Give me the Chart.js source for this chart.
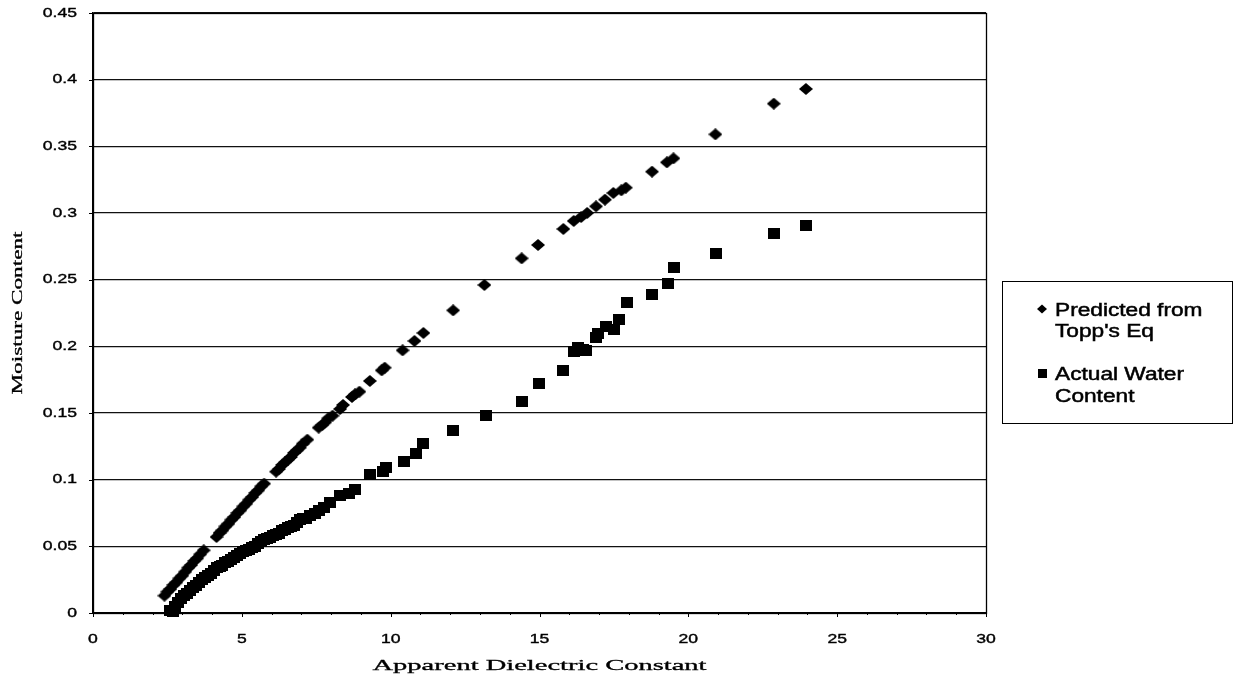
<!DOCTYPE html>
<html>
<head>
<meta charset="utf-8">
<script src="https://cdn.jsdelivr.net/npm/chart.js@4.4.1/dist/chart.umd.min.js"></script>
<style>
  html, body { margin: 0; padding: 0; background: #fff; }
  canvas { display: block; }
</style>
</head>
<body>
<canvas id="chart" width="1243" height="683"></canvas>
<script>
// Apparent dielectric constant (Ka) and moisture content readings
const toppKa = [2.4, 2.5, 2.6, 2.7, 2.8, 2.9, 3.0, 3.1, 3.2, 3.3, 3.4, 3.5, 3.6, 3.72,
  4.15, 4.25, 4.35, 4.45, 4.55, 4.65, 4.75, 4.85, 4.95, 5.05, 5.15, 5.25, 5.35, 5.45,
  5.55, 5.65, 5.75, 6.15, 6.25, 6.35, 6.45, 6.55, 6.65, 6.75, 6.85, 6.95,
  7.05, 7.2, 7.58, 7.7, 7.8, 7.9, 8.05, 8.3, 8.4, 8.7, 8.8, 8.95, 9.3, 9.7, 9.8,
  10.4, 10.8, 11.1, 12.1, 13.15, 14.4, 14.95, 15.8, 16.15, 16.4, 16.6, 16.9, 17.2, 17.48,
  17.75, 17.9, 18.78, 19.28, 19.5, 20.91, 22.87, 23.95];
const toppTheta = [0.013, 0.016, 0.018, 0.021, 0.023, 0.026, 0.028, 0.031, 0.034, 0.036, 0.039, 0.041, 0.044, 0.047,
  0.057, 0.060, 0.062, 0.065, 0.067, 0.070, 0.072, 0.075, 0.077, 0.080, 0.082, 0.085, 0.087, 0.090,
  0.092, 0.095, 0.097, 0.106, 0.108, 0.111, 0.113, 0.115, 0.117, 0.120, 0.122, 0.124,
  0.127, 0.130, 0.139, 0.141, 0.143, 0.146, 0.148, 0.153, 0.156, 0.162, 0.164, 0.166, 0.174, 0.182, 0.184,
  0.197, 0.204, 0.210, 0.227, 0.246, 0.266, 0.276, 0.288, 0.294, 0.297, 0.300, 0.305, 0.310, 0.315,
  0.317, 0.319, 0.331, 0.338, 0.341, 0.359, 0.382, 0.393];

const actualKa = [2.6, 2.7, 2.75, 2.85, 2.95, 3.05, 3.15, 3.25, 3.35, 3.45, 3.55, 3.65, 3.75, 3.85, 3.95,
  4.05, 4.15, 4.25, 4.35, 4.45, 4.55, 4.65, 4.75, 4.85, 4.95, 5.05, 5.15, 5.25, 5.35, 5.45,
  5.55, 5.65, 5.75, 5.85, 5.95, 6.05, 6.15, 6.25, 6.35, 6.45, 6.55, 6.65, 6.75, 6.85, 6.95,
  7.05, 7.15, 7.3, 7.45, 7.6, 7.75, 7.95, 8.3, 8.6, 8.8, 9.3, 9.75, 9.85, 10.45, 10.85, 11.1,
  12.1, 13.2, 14.42, 14.98, 15.8, 16.15, 16.3, 16.45, 16.55, 16.9, 16.95, 17.23, 17.5, 17.68,
  17.93, 18.79, 19.33, 19.52, 20.93, 22.88, 23.95];
const actualTheta = [0.002, 0.001, 0.005, 0.008, 0.011, 0.013, 0.015, 0.017, 0.019, 0.021, 0.023, 0.025, 0.027, 0.028, 0.030,
  0.032, 0.034, 0.035, 0.036, 0.038, 0.039, 0.040, 0.042, 0.043, 0.045, 0.046, 0.047, 0.048, 0.049, 0.050,
  0.052, 0.054, 0.055, 0.056, 0.057, 0.058, 0.059, 0.060, 0.062, 0.063, 0.064, 0.065, 0.066, 0.068, 0.070,
  0.071, 0.071, 0.073, 0.075, 0.077, 0.079, 0.083, 0.088, 0.090, 0.093, 0.104, 0.106, 0.109, 0.114, 0.120, 0.127,
  0.137, 0.148, 0.159, 0.172, 0.182, 0.196, 0.199, 0.198, 0.197, 0.207, 0.210, 0.215, 0.213, 0.220,
  0.233, 0.239, 0.247, 0.259, 0.270, 0.285, 0.291];

const seriesNames = ["Predicted from Topp's Eq", "Actual Water Content"];
const legendLines = [["Predicted from", "Topp's Eq"], ["Actual Water", "Content"]];
const xTitle = "Apparent Dielectric Constant";
const yTitle = "Moisture Content";
const xRange = [0, 30];
const yRange = [0, 0.45];
const xStep = 5;
const yStep = 0.05;

// small bitmap markers: a flat diamond and a square
function diamond(w, h) {
  const c = document.createElement('canvas');
  c.width = w; c.height = h;
  const g = c.getContext('2d');
  g.fillStyle = '#000';
  g.beginPath();
  g.moveTo(w / 2, 0); g.lineTo(w, h / 2); g.lineTo(w / 2, h); g.lineTo(0, h / 2);
  g.closePath(); g.fill();
  return c;
}
function square(w, h) {
  const c = document.createElement('canvas');
  c.width = w; c.height = h;
  const g = c.getContext('2d');
  g.fillStyle = '#000';
  g.fillRect(0, 0, w, h);
  return c;
}

// text drawn wide along its baseline
function wideText(ctx, text, x, y, o) {
  ctx.save();
  ctx.font = o.font;
  ctx.fillStyle = '#000';
  ctx.strokeStyle = '#000';
  ctx.lineWidth = o.heavy || 0;
  ctx.textBaseline = o.baseline || 'middle';
  ctx.textAlign = o.align || 'left';
  const w0 = ctx.measureText(text).width;
  const s = o.width ? o.width / w0 : (o.sx || 1);
  ctx.translate(x, y);
  if (o.angle) ctx.rotate(o.angle);
  ctx.scale(s, 1);
  ctx.fillText(text, 0, 0);
  if (o.heavy) ctx.strokeText(text, 0, 0);
  ctx.restore();
}

const decor = {
  id: 'decor',
  afterDraw(chart) {
    const ctx = chart.ctx;
    const a = chart.chartArea;
    const xs = chart.scales.x, ys = chart.scales.y;
    ctx.save();
    // frame
    ctx.strokeStyle = '#000';
    ctx.lineWidth = 1.3;
    ctx.strokeRect(Math.round(a.left) + 0.5, Math.round(a.top) + 0.5,
      Math.round(a.right - a.left), Math.round(a.bottom - a.top));
    // tick marks
    ctx.lineWidth = 1;
    ctx.beginPath();
    ys.ticks.forEach(t => {
      const py = Math.round(ys.getPixelForValue(t.value)) + 0.5;
      ctx.moveTo(a.left - 4, py); ctx.lineTo(a.left, py);
    });
    for (let v = xRange[0]; v <= xRange[1]; v += 1) {
      const px = Math.round(xs.getPixelForValue(v)) + 0.5;
      const len = v % xStep === 0 ? 4 : 2;
      ctx.moveTo(px, a.bottom - 1); ctx.lineTo(px, a.bottom + len);
    }
    ctx.stroke();
    ctx.restore();

    // tick labels
    const tickFont = '13.5px "Liberation Sans", Arial, sans-serif';
    ys.ticks.forEach(t => {
      const label = String(Math.round(t.value * 100) / 100);
      wideText(ctx, label, a.left - 16, ys.getPixelForValue(t.value), { font: tickFont, sx: 1.3, align: 'right', heavy: 0.4 });
    });
    xs.ticks.forEach(t => {
      wideText(ctx, String(t.value), xs.getPixelForValue(t.value), a.bottom + 26, { font: tickFont, sx: 1.3, align: 'center', heavy: 0.4 });
    });

    // axis titles
    const titleFont = '15px "Liberation Serif", "Times New Roman", serif';
    wideText(ctx, xTitle, (a.left + a.right) / 2, a.bottom + 53, { font: titleFont, width: 334, align: 'center', heavy: 0.3 });
    wideText(ctx, yTitle, 18, (a.top + a.bottom) / 2, { font: titleFont, width: 163, align: 'center', angle: -Math.PI / 2, heavy: 0.3 });

    // legend
    const L = { left: 1002, top: 281, right: 1232, bottom: 423 };
    ctx.save();
    ctx.strokeStyle = '#000';
    ctx.lineWidth = 1;
    ctx.strokeRect(L.left + 0.5, L.top + 0.5, L.right - L.left, L.bottom - L.top);
    ctx.restore();
    const legFont = '18px "Liberation Sans", Arial, sans-serif';
    const baselines = [[316, 337], [380, 402]];
    const markerY = [309, 373];
    chart.data.datasets.forEach((ds, i) => {
      ctx.save();
      ctx.fillStyle = '#000';
      if (i === 0) {
        ctx.beginPath();
        ctx.moveTo(1042, markerY[i] - 4.5); ctx.lineTo(1047, markerY[i]);
        ctx.lineTo(1042, markerY[i] + 4.5); ctx.lineTo(1037, markerY[i]);
        ctx.closePath(); ctx.fill();
      } else {
        ctx.fillRect(1038, markerY[i] - 4, 9, 9);
      }
      ctx.restore();
      legendLines[i].forEach((line, j) => {
        wideText(ctx, line, 1055, baselines[i][j], { font: legFont, sx: 1.26, align: 'left', baseline: 'alphabetic', heavy: 0.5 });
      });
    });
  }
};

const toPoints = (xsArr, ysArr) => xsArr.map((x, i) => ({ x, y: ysArr[i] }));

new Chart(document.getElementById('chart'), {
  type: 'scatter',
  data: {
    datasets: [
      {
        label: seriesNames[0],
        data: toPoints(toppKa, toppTheta),
        pointStyle: diamond(14, 12),
        pointRadius: 7,
        backgroundColor: '#000',
        borderColor: '#000',
        clip: false
      },
      {
        label: seriesNames[1],
        data: toPoints(actualKa, actualTheta),
        pointStyle: square(12, 11),
        pointRadius: 6,
        backgroundColor: '#000',
        borderColor: '#000',
        clip: false
      }
    ]
  },
  options: {
    responsive: false,
    animation: false,
    devicePixelRatio: 1,
    layout: { padding: { left: 93, right: 257, top: 13, bottom: 70 } },
    plugins: { legend: { display: false }, tooltip: { enabled: false } },
    scales: {
      x: {
        type: 'linear',
        min: xRange[0], max: xRange[1],
        ticks: { display: false, stepSize: xStep },
        grid: { display: false, drawTicks: false },
        border: { display: true, color: '#000', width: 1.3 }
      },
      y: {
        type: 'linear',
        min: yRange[0], max: yRange[1],
        ticks: { display: false, stepSize: yStep },
        grid: { display: true, drawTicks: false, color: '#111', lineWidth: 1.2 },
        border: { display: true, color: '#000', width: 1.3 }
      }
    }
  },
  plugins: [decor]
});
</script>
</body>
</html>
